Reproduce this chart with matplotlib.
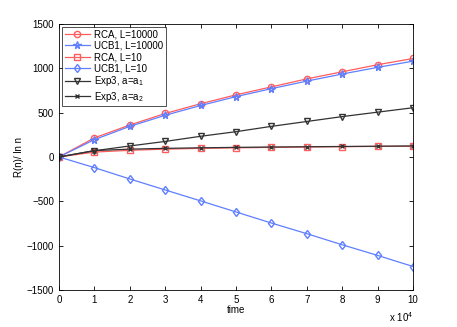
import matplotlib
matplotlib.use("Agg")
import matplotlib.pyplot as plt
from matplotlib import ticker

plt.rcParams["font.family"] = ["Liberation Sans", "DejaVu Sans"]
plt.rcParams["font.size"] = 7
plt.rcParams["mathtext.fontset"] = "custom"
plt.rcParams["mathtext.rm"] = "Liberation Sans"
plt.rcParams["mathtext.it"] = "Liberation Sans"

time = [0, 10000, 20000, 30000, 40000, 50000, 60000, 70000, 80000, 90000, 100000]
rca_10000 = [0, 215, 360, 490, 600, 700, 790, 880, 960, 1040, 1110]
ucb_10000 = [0, 195, 345, 470, 580, 680, 770, 855, 935, 1010, 1080]
rca_10 = [0, 55, 75, 88, 97, 103, 108, 112, 116, 119, 122]
ucb_10 = [0, -120, -248, -372, -495, -620, -745, -865, -990, -1110, -1235]
exp3_a1 = [0, 70, 124, 175, 233, 285, 345, 400, 455, 505, 555]
exp3_a2 = [0, 72, 88, 97, 103, 108, 112, 115, 118, 121, 124]

red = "#ff5c5c"
blue = "#5f7fff"
dark = "#333333"

fig = plt.figure(figsize=(4.57, 3.27), dpi=100)
ax = fig.add_axes([0.129, 0.113, 0.775, 0.814])

ms = 4.5
ax.plot(time, rca_10000, color=red, marker="o", mfc="none", ms=ms, lw=0.9, label="RCA, L=10000")
ax.plot(time, ucb_10000, color=blue, marker="*", mfc="none", ms=ms + 1, lw=0.9, label="UCB1, L=10000")
ax.plot(time, rca_10, color=red, marker="s", mfc="none", ms=ms - 0.5, lw=0.9, label="RCA, L=10")
ax.plot(time, ucb_10, color=blue, marker="d", mfc="none", ms=ms, lw=0.9, label="UCB1, L=10")
ax.plot(time, exp3_a1, color=dark, marker="v", mfc="none", ms=ms, lw=0.9, label="Exp3, a=a$_1$")
ax.plot(time, exp3_a2, color=dark, marker="x", ms=ms - 1, lw=0.9, label="Exp3, a=a$_2$")

ax.set_xlim(0, 100000)
ax.set_ylim(-1500, 1500)
ax.set_xticks(time)
ax.xaxis.set_major_formatter(ticker.FuncFormatter(lambda v, p: f"{v / 1e4:g}"))
ax.set_yticks(range(-1500, 1501, 500))
ax.tick_params(direction="in", top=True, right=True, length=3, width=0.6)
for s in ax.spines.values():
    s.set_linewidth(0.6)

ax.text(1.0, -0.075, "x 10$^4$", transform=ax.transAxes, ha="right", va="top", fontsize=7)
ax.set_xlabel("time", labelpad=0)
ax.set_ylabel("R(n)/ ln n", labelpad=2)

leg = ax.legend(loc="upper left", fancybox=False, edgecolor="black",
                borderpad=0.3, labelspacing=0.12, handlelength=2.6, handletextpad=0.4,
                borderaxespad=0.3)
leg.get_frame().set_linewidth(0.6)

fig.savefig("out.png", dpi=100)
